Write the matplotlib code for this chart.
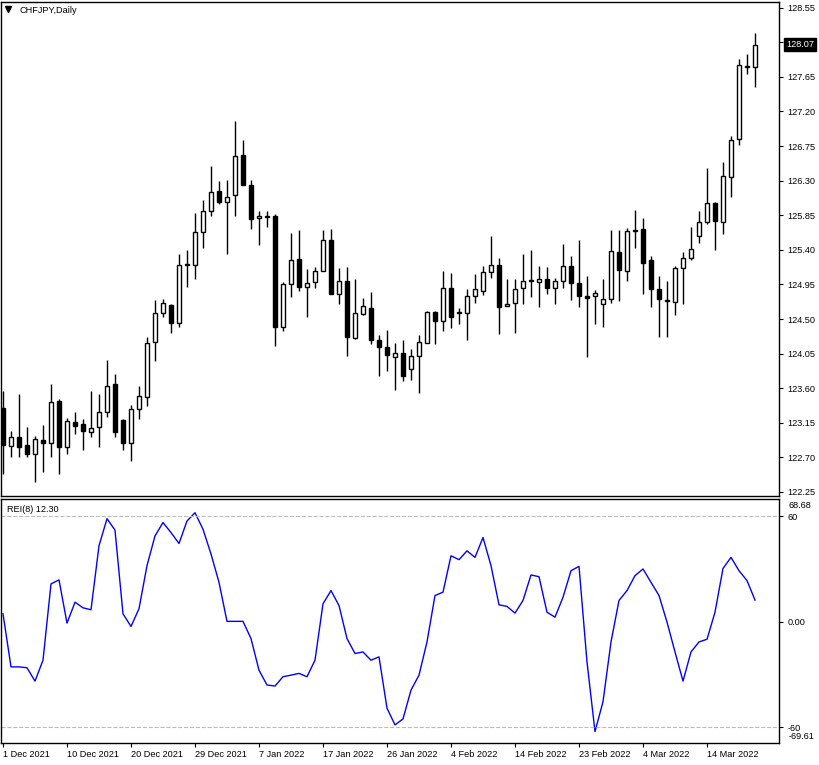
import numpy as np
import matplotlib.pyplot as plt

# daily candles, CHFJPY
opens = [123.34, 122.85, 122.96, 122.86, 122.75, 122.93, 122.89, 123.43, 122.84, 123.16,
         123.13, 123.03, 123.09, 123.29, 123.65, 123.19, 122.89, 123.33, 123.49, 124.20,
         124.58, 124.68, 124.45, 125.22, 125.20, 125.63, 125.91, 126.17, 126.02, 126.11,
         126.64, 126.25, 125.81, 125.83, 125.84, 124.40, 124.95, 125.28, 124.92, 124.98,
         125.13, 125.53, 124.83, 124.99, 124.25, 124.57, 124.65, 124.23, 124.14, 124.01,
         124.06, 123.85, 124.02, 124.19, 124.59, 124.48, 124.91, 124.58, 124.58, 124.80,
         124.87, 125.11, 125.20, 124.67, 124.71, 124.90, 125.00, 124.98, 125.02, 124.90,
         125.00, 125.19, 124.97, 124.80, 124.80, 124.69, 124.76, 125.37, 125.13, 125.65,
         125.67, 125.27, 124.89, 124.75, 124.72, 125.16, 125.30, 125.58, 125.76, 126.01,
         125.76, 126.35, 126.84, 127.79, 127.78]
highs = [123.56, 123.05, 123.53, 123.09, 122.98, 123.12, 123.66, 123.46, 123.21, 123.29,
         123.20, 123.56, 123.53, 123.97, 123.79, 123.20, 123.38, 123.63, 124.26, 124.75,
         124.76, 124.69, 125.34, 125.40, 125.88, 126.05, 126.49, 126.30, 126.31, 127.08,
         126.83, 126.31, 125.90, 125.91, 125.86, 124.98, 125.62, 125.66, 125.15, 125.18,
         125.66, 125.67, 125.17, 125.18, 125.02, 124.77, 124.85, 124.29, 124.36, 124.19,
         124.23, 124.11, 124.29, 124.60, 124.60, 125.13, 125.10, 124.64, 124.89, 125.09,
         125.19, 125.58, 125.30, 125.02, 125.02, 125.34, 125.40, 125.19, 125.18, 125.03,
         125.48, 125.32, 125.53, 125.06, 124.88, 125.02, 125.66, 125.66, 125.69, 125.92,
         125.82, 125.32, 125.06, 124.99, 125.19, 125.37, 125.70, 125.91, 126.47, 126.02,
         126.54, 126.88, 127.88, 127.95, 128.22]
lows = [122.49, 122.71, 122.71, 122.71, 122.38, 122.51, 122.71, 122.49, 122.74, 123.00,
        122.80, 122.97, 122.83, 123.23, 122.97, 122.79, 122.65, 123.20, 123.37, 123.95,
        124.52, 124.32, 124.40, 124.92, 125.02, 125.43, 125.84, 126.00, 125.34, 125.84,
        126.24, 125.67, 125.46, 125.70, 124.15, 124.34, 124.79, 124.86, 124.52, 124.90,
        125.12, 124.82, 124.70, 124.02, 124.24, 124.55, 124.18, 123.76, 123.82, 123.58,
        123.69, 123.71, 123.54, 124.19, 124.18, 124.34, 124.38, 124.44, 124.23, 124.71,
        124.81, 125.03, 124.31, 124.67, 124.32, 124.70, 124.79, 124.66, 124.83, 124.69,
        124.90, 124.75, 124.66, 124.01, 124.43, 124.40, 124.71, 124.74, 125.00, 125.43,
        124.83, 124.66, 124.26, 124.27, 124.55, 124.69, 125.27, 125.49, 125.73, 125.40,
        125.60, 126.09, 126.76, 127.69, 127.52]
closes = [122.86, 122.97, 122.84, 122.74, 122.94, 122.89, 123.42, 122.84, 123.17, 123.11,
          123.04, 123.08, 123.29, 123.63, 123.03, 122.89, 123.33, 123.50, 124.19, 124.58,
          124.71, 124.45, 125.20, 125.20, 125.63, 125.91, 126.15, 126.02, 126.09, 126.62,
          126.25, 125.80, 125.84, 125.84, 124.40, 124.95, 125.27, 124.92, 124.97, 125.13,
          125.53, 124.83, 124.99, 124.26, 124.58, 124.67, 124.23, 124.14, 124.03, 124.06,
          123.76, 124.02, 124.20, 124.59, 124.48, 124.91, 124.53, 124.58, 124.80, 124.89,
          125.11, 125.20, 124.66, 124.69, 124.89, 124.99, 124.99, 125.02, 124.91, 125.00,
          125.19, 124.97, 124.80, 124.78, 124.84, 124.76, 125.38, 125.14, 125.65, 125.66,
          125.23, 124.89, 124.76, 124.73, 125.17, 125.30, 125.41, 125.76, 126.01, 125.77,
          126.36, 126.83, 127.80, 127.78, 128.07]

rei = [4.5, -25.7, -25.7, -26.2, -33.8, -21.9, 21.5, 23.8, -0.8, 11.1,
       7.9, 6.8, 43.2, 58.6, 52.1, 4.5, -2.7, 7.4, 31.9, 48.8,
       56.4, 50.7, 44.5, 57.3, 62.0, 52.6, 38.5, 22.4, 0.2, 0.2,
       0.2, -9.6, -27.6, -36.0, -36.6, -31.3, -30.4, -29.4, -31.3, -21.9,
       10.2, 17.7, 9.2, -9.6, -18.1, -17.2, -21.9, -20.0, -49.2, -58.7,
       -55.3, -38.9, -30.4, -11.5, 14.9, 16.8, 37.5, 35.3, 40.3, 36.6,
       47.9, 31.9, 9.6, 8.7, 4.9, 12.1, 26.6, 25.6, 5.4, 2.6,
       13.9, 29.0, 31.5, -22.9, -62.5, -45.5, -11.5, 12.1, 17.7, 26.2,
       30.0, 22.4, 14.9, -0.2, -17.2, -33.8, -17.2, -11.5, -10.0, 5.4,
       30.3, 36.6, 29.0, 23.4, 12.3]
rei_max_label = "68.68"
rei_min_label = "-69.61"

date_pos = [0, 8, 16, 24, 32, 40, 48, 56, 64, 72, 80, 88]
date_labels = ["1 Dec 2021", "10 Dec 2021", "20 Dec 2021", "29 Dec 2021", "7 Jan 2022",
               "17 Jan 2022", "26 Jan 2022", "4 Feb 2022", "14 Feb 2022", "23 Feb 2022",
               "4 Mar 2022", "14 Mar 2022"]

plt.rcParams['font.family'] = ['Liberation Sans', 'DejaVu Sans']
fs = 6.6

o = np.array(opens); h = np.array(highs); l = np.array(lows); c = np.array(closes)
x = np.arange(len(o))
W, H = 820, 765
fig = plt.figure(figsize=(8.2, 7.65), dpi=100)
left, right = 1 / W, 779 / W
ax = fig.add_axes([left, 1 - 496 / H, right - left, (496 - 2) / H])
ax2 = fig.add_axes([left, 1 - 743 / H, right - left, (743 - 499) / H])

xlim = (-0.25, 97.0)

# price panel
ax.vlines(x, l, h, color="black", linewidth=1, zorder=1)
up = c >= o
body_bot = np.minimum(o, c)
body_h = np.maximum(np.abs(c - o), 0.012)
ax.bar(x, body_h, bottom=body_bot, width=0.6,
       color=np.where(up, "white", "black"), edgecolor="black", linewidth=1, zorder=2)
ax.set_xlim(*xlim)
ax.set_ylim(122.25 - 4 / 76.83, 128.55 + 5.7 / 76.83)
ticks = np.round(np.arange(122.25, 128.56, 0.45), 2)
ax.yaxis.tick_right()
ax.set_yticks(ticks)
ax.set_yticklabels([f"{v:.2f}" for v in ticks], fontsize=fs)
ax.tick_params(axis="y", direction="out", length=3, pad=3)
ax.set_xticks([])
ax.text(0.024, 0.992, "CHFJPY,Daily", transform=ax.transAxes, fontsize=fs, va="top", ha="left")
ax.plot([0.009], [0.985], marker="v", color="black", markersize=4, transform=ax.transAxes)
ax.text(1.009, closes[-1], f"{closes[-1]:.2f}", transform=ax.get_yaxis_transform(),
        fontsize=fs, color="white", va="center", ha="left",
        bbox=dict(boxstyle="square,pad=0.2", facecolor="black", edgecolor="black"))

# REI panel
ax2.plot(x, rei, color="blue", linewidth=1)
ax2.axhline(60, color="#bbbbbb", linestyle="--", linewidth=0.8)
ax2.axhline(-60, color="#bbbbbb", linestyle="--", linewidth=0.8)
ax2.set_xlim(*xlim)
ax2.set_ylim(-69.0, 69.8)
ax2.yaxis.tick_right()
ax2.set_yticks([60, 0, -60])
ax2.set_yticklabels(["60", "0.00", "-60"], fontsize=fs)
ax2.tick_params(axis="y", direction="out", length=3, pad=3)
ax2.text(1.012, 0.972, rei_max_label, transform=ax2.transAxes, fontsize=fs, va="center", ha="left")
ax2.text(1.012, 0.025, rei_min_label, transform=ax2.transAxes, fontsize=fs, va="center", ha="left")
ax2.text(0.008, 0.975, f"REI(8) {rei[-1]:.2f}", transform=ax2.transAxes, fontsize=fs,
         va="top", ha="left")
ax2.set_xticks(date_pos)
ax2.set_xticklabels(date_labels, fontsize=fs, ha="left")
ax2.tick_params(axis="x", direction="out", length=3, pad=2)

for a in (ax, ax2):
    for s in a.spines.values():
        s.set_linewidth(1)

fig.savefig("out.png", dpi=100)
